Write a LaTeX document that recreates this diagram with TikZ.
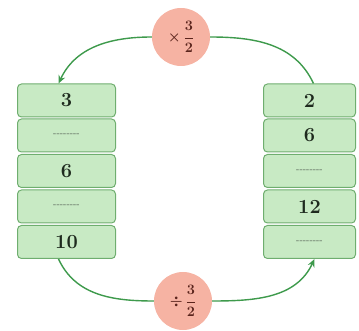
\documentclass[tikz,border=0pt]{standalone}
\usetikzlibrary{calc,arrows.meta}
\definecolor{boxfill}{HTML}{C8EAC4}
\definecolor{boxline}{HTML}{6FAE6F}
\definecolor{arrowc}{HTML}{3E9A4C}
\definecolor{circfill}{HTML}{F6B3A3}
\definecolor{circtext}{HTML}{5A241C}
\definecolor{numc}{HTML}{1E2A1E}
\tikzset{
  numbox/.style={draw=boxline, line width=1pt, fill=boxfill, rounded corners=4pt, minimum height=33pt, inner sep=0pt, font=\fontsize{20}{22}\selectfont\bfseries, text=numc},
  lbox/.style={numbox, minimum width=98pt},
  rbox/.style={numbox, minimum width=92pt},
  opcirc/.style={circle, fill=circfill, minimum size=58pt, inner sep=0pt, text=circtext, font=\fontsize{15}{17}\selectfont\bfseries\boldmath},
  conn/.style={draw=arrowc, line width=1.4pt},
  tip/.style={-{Stealth[length=8pt,width=7pt]}}
}
\newcommand{\blankfill}{\normalsize\mdseries\color{numc!80} -{}-{}-{}-{}-{}-{}-{}-}
\begin{document}
\begin{tikzpicture}[x=1pt,y=1pt]
\useasboundingbox (0,0) rectangle (359,-331);
% left column
\node[lbox] (L1) at (66.5,-100.5) {3};
\node[lbox] (L2) at (66.5,-135.5) {\blankfill};
\node[lbox] (L3) at (66.5,-171) {6};
\node[lbox] (L4) at (66.5,-206.5) {\blankfill};
\node[lbox] (L5) at (66.5,-242) {10};
% right column
\node[rbox] (R1) at (309.5,-100.5) {2};
\node[rbox] (R2) at (309.5,-135.5) {6};
\node[rbox] (R3) at (309.5,-171) {\blankfill};
\node[rbox] (R4) at (309.5,-206.5) {12};
\node[rbox] (R5) at (309.5,-242) {\blankfill};
% operators
\node[opcirc] (T) at (181,-37) {$\times\,\displaystyle\frac{3}{2}$};
\node[opcirc] (B) at (183,-301) {$\div\,\displaystyle\frac{3}{2}$};
% connectors
\coordinate (L1t) at ($(L1.north)+(-8,0)$);
\coordinate (R1t) at ($(R1.north)+(4,0)$);
\coordinate (L5b) at ($(L5.south)+(-8,0)$);
\coordinate (R5b) at ($(R5.south)+(5,0)$);
\draw[conn] (R1t) to[out=115, in=0] (T.east);
\draw[conn, tip] (T.west) to[out=180, in=65] (L1t);
\draw[conn] (L5b) to[out=-65, in=180] (B.west);
\draw[conn, tip] (B.east) to[out=0, in=-115] (R5b);
\end{tikzpicture}
\end{document}
